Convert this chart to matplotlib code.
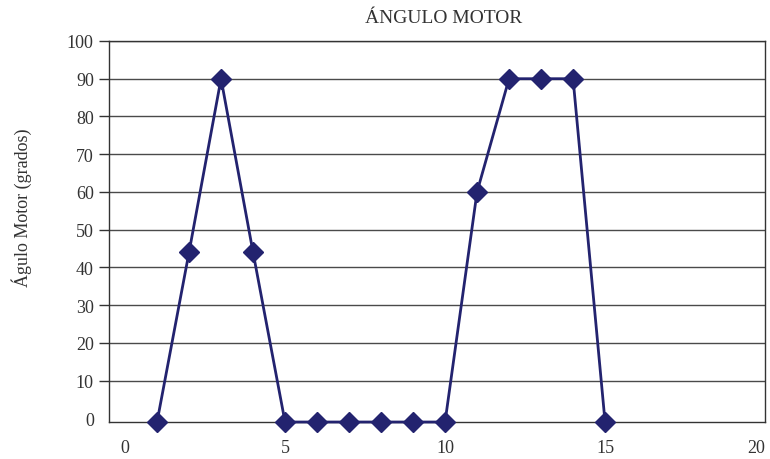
import matplotlib.pyplot as plt
import numpy as np

# datos
tiempo = [1, 2, 3, 4, 5, 6, 7, 8, 9, 10, 11, 12, 13, 14, 15]
angulo = [-1, 44, 90, 44, -1, -1, -1, -1, -1, -1, 60, 90, 90, 90, -1]

x_ticks = [0, 5, 10, 15, 20]
y_ticks = [0, 10, 20, 30, 40, 50, 60, 70, 80, 90, 100]

plt.rcParams['font.family'] = ['Liberation Serif', 'DejaVu Serif']

fig = plt.figure(figsize=(7.7, 4.6), dpi=100)
ax = fig.add_axes([0.1416, 0.0804, 0.852, 0.8283])

# lineas de la grilla (sin la del cero)
for v in y_ticks[1:]:
    ax.axhline(v, color='#4a4a4a', lw=1, zorder=1)

ax.plot(tiempo, angulo, color='#23236f', lw=2, marker='D', markersize=10.5,
        zorder=3, clip_on=False)

ax.set_xlim(-0.5, 20)
ax.set_ylim(-1, 100)
ax.set_xticks(x_ticks)
ax.set_yticks(y_ticks)

ax.tick_params(axis='x', length=0, pad=12, labelsize=13, labelcolor='#333333')
ax.tick_params(axis='y', length=7, width=1, pad=4, labelsize=13,
               labelcolor='#333333', color='#333333')
ax.yaxis.get_major_ticks()[0].tick1line.set_visible(False)
ax.get_xticklabels()[-1].set_horizontalalignment('right')
ax.get_xticklabels()[-1].set_x(20.1)

for s in ax.spines.values():
    s.set_color('#333333')
    s.set_linewidth(1)

ax.set_title('ÁNGULO MOTOR', fontsize=14, color='#333333', pad=14, x=0.51)
ax.set_ylabel('Águlo Motor (grados)', fontsize=13, color='#333333')
ax.yaxis.set_label_coords(-0.118, 0.564)

fig.savefig('out.png', dpi=100)
